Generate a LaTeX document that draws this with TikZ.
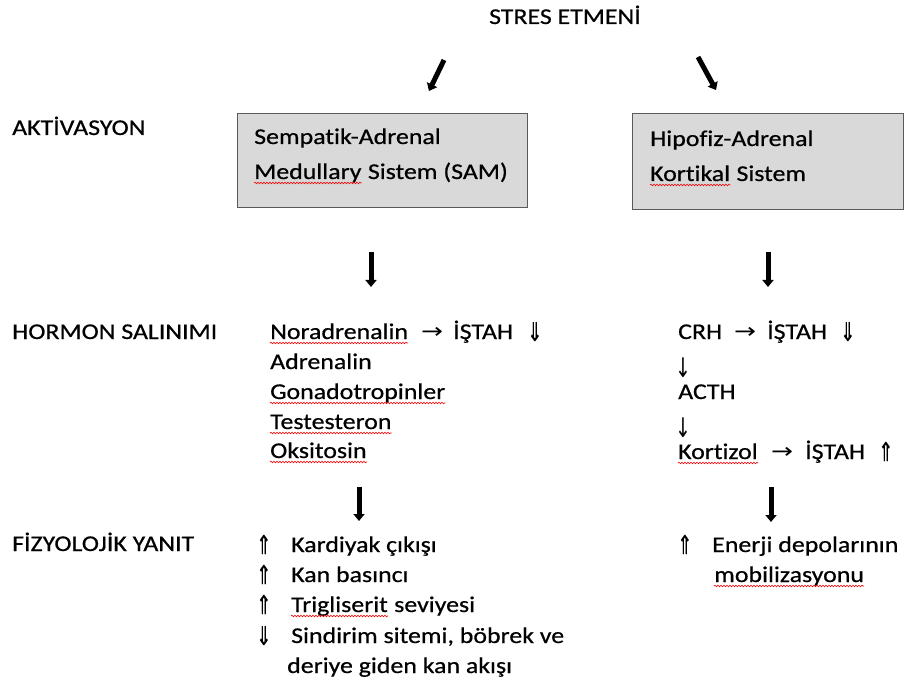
\documentclass[tikz,border=0pt]{standalone}
\usepackage{fontspec}
\setmainfont[FakeStretch=1.15,FakeBold=0.6,Ligatures={NoCommon}]{Carlito}
\newfontfamily\symf{DejaVu Sans}
\newfontfamily\dblf[FakeBold=0.2]{DejaVu Sans}
\usetikzlibrary{arrows.meta,decorations.pathmorphing}
\begin{document}
\begin{tikzpicture}[x=1pt,y=-1pt,
 txt/.style={anchor=base west,inner sep=0pt,font=\fontsize{22.5}{27}\selectfont},
 sym/.style={anchor=base west,inner sep=0pt,font=\fontsize{21}{24}\symf},
 vsym/.style={anchor=base west,inner sep=0pt,font=\fontsize{27}{30}\symf},
 dbl/.style={anchor=base west,inner sep=0pt,font=\fontsize{26}{28}\dblf},
 box/.style={draw=black!65,line width=1.2pt,fill=black!15,anchor=north west},
 big/.style={line width=5pt,-{Triangle[length=7pt,width=11pt]}},
 squig/.style={red,line width=0.6pt,decorate,decoration={snake,amplitude=0.8pt,segment length=3pt}}]
\useasboundingbox (0,0) rectangle (909,684);
\newcommand\wav[1]{\draw[squig] ([yshift=-4pt]#1.base west) -- ([yshift=-4pt]#1.base east);}
\newcommand\up{\scalebox{0.7}[1]{⇑}}
\newcommand\dn{\scalebox{0.7}[1]{⇓}}
\newcommand\ra{\scalebox{1.25}[1]{→}}
\newcommand\da{\scalebox{0.7}[1]{↓}}

% title
\node[txt,anchor=base] (stres) at (565,24) {STRES ETMENİ};
\coordinate (l1) at (444,60); \coordinate (l2) at (429,91);
\coordinate (r1) at (698,57); \coordinate (r2) at (716,90);
\draw[big] (l1) -- (l2);
\draw[big] (r1) -- (r2);

% row labels
\node[txt] (akt) at (12,135) {AKTİVASYON};
\node[txt] (hor) at (12,339) {HORMON SALINIMI};
\node[txt] (fiz) at (12,551) {FİZYOLOJİK YANIT};

% boxes
\node[box,minimum width=290,minimum height=94] (sam) at (237,113) {};
\node[box,minimum width=271,minimum height=96] (hpa) at (632,113) {};
\node[txt] (sam1) at (254,144) {Sempatik-Adrenal};
\node[txt] (sam2) at (254,179) {Medullary};
\node[txt] (sam3) at ([xshift=6]sam2.base east) {Sistem (SAM)};
\wav{sam2}
\node[txt] (hpa1) at (650,146) {Hipofiz-Adrenal};
\node[txt] (hpa2) at (650,181) {Kortikal};
\node[txt] (hpa3) at ([xshift=6]hpa2.base east) {Sistem};
\wav{hpa2}

% down arrows 1
\coordinate (a1) at (371,252); \coordinate (a2) at (371,287);
\coordinate (b1) at (768,252); \coordinate (b2) at (768,287);
\draw[big] (a1) -- (a2);
\draw[big] (b1) -- (b2);

% hormone list left
\node[txt] (h1) at (270,339) {Noradrenalin};
\wav{h1}
\node[sym] (h1a) at (421,338) {\ra};
\node[txt] (h1b) at (453,339) {İŞTAH};
\node[dbl] (h1c) at (527,341) {\dn};
\node[txt] (h2) at (270,369) {Adrenalin};
\node[txt] (h3) at (270,399) {Gonadotropinler};
\wav{h3}
\node[txt] (h4) at (270,429) {Testesteron};
\wav{h4}
\node[txt] (h5) at (270,458) {Oksitosin};
\wav{h5}

% hormone list right
\node[txt] (c1) at (678,339) {CRH};
\node[sym] (c1a) at (734,338) {\ra};
\node[txt] (c1b) at (767,339) {İŞTAH};
\node[dbl] (c1c) at (840,341) {\dn};
\node[vsym] (c2) at (675,377) {\da};
\node[txt] (c3) at (678,399) {ACTH};
\node[vsym] (c4) at (675,437) {\da};
\node[txt] (c5) at (678,459) {Kortizol};
\wav{c5}
\node[sym] (c5a) at (771,458) {\ra};
\node[txt] (c5b) at (805,459) {İŞTAH};
\node[dbl] (c5c) at (878,461) {\up};

% down arrows 2
\coordinate (d1) at (359,487); \coordinate (d2) at (359,521);
\coordinate (e1) at (771,487); \coordinate (e2) at (771,522);
\draw[big] (d1) -- (d2);
\draw[big] (e1) -- (e2);

% physiological response left
\node[dbl] (p1s) at (256,554) {\up};
\node[txt] (p1) at (291,552) {Kardiyak çıkışı};
\node[dbl] (p2s) at (256,584) {\up};
\node[txt] (p2) at (291,582) {Kan basıncı};
\node[dbl] (p3s) at (256,614) {\up};
\node[txt] (p3) at (291,612) {Trigliserit};
\wav{p3}
\node[txt] (p3b) at ([xshift=6]p3.base east) {seviyesi};
\node[dbl] (p4s) at (256,645) {\dn};
\node[txt] (p4) at (291,643) {Sindirim sitemi, böbrek ve};
\node[txt] (p5) at (287,673) {deriye giden kan akışı};

% physiological response right
\node[dbl] (q1s) at (677,554) {\up};
\node[txt] (q1) at (712,552) {Enerji depolarının};
\node[txt] (q2) at (714,582) {mobilizasyonu};
\wav{q2}
\end{tikzpicture}
\end{document}
